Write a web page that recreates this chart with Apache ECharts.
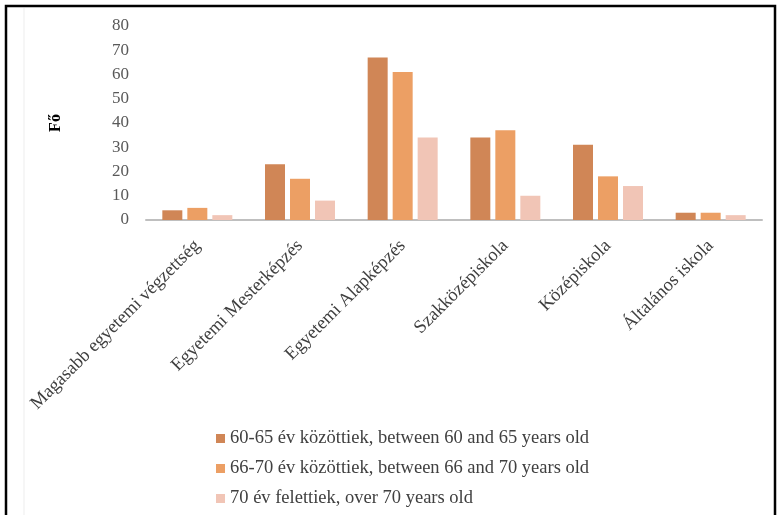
<!DOCTYPE html>
<html><head><meta charset="utf-8">
<script src="https://cdn.jsdelivr.net/npm/echarts@6/dist/echarts.min.js"></script>
<style>html,body{margin:0;padding:0;background:#fff}#c{width:782px;height:515px}</style>
</head><body><div id="c"></div>
<script>
const categories = ['Magasabb egyetemi végzettség','Egyetemi Mesterképzés','Egyetemi Alapképzés','Szakközépiskola','Középiskola','Általános iskola'];
const seriesNames = ['60-65 év közöttiek, between 60 and 65 years old','66-70 év közöttiek, between 66 and 70 years old','70 év felettiek, over 70 years old'];
const s60_65 = [4, 23, 67, 34, 31, 3];
const s66_70 = [5, 17, 61, 37, 18, 3];
const s70plus = [2, 8, 34, 10, 14, 2];
const colors = ['#D08656','#EC9F64','#F1C5B6'];
const font = 'Liberation Serif';
const chart = echarts.init(document.getElementById('c'));
const mk = (name, data, i) => ({
  name, type:'bar', data, barWidth:20, barGap:'25%',
  itemStyle:{color:colors[i]}
});
chart.setOption({
  animation:false,
  textStyle:{fontFamily:font},
  grid:{left:146, right:20, top:26, bottom:295, containLabel:false},
  legend:{
    orient:'vertical', left:211, top:424, itemWidth:9, itemHeight:9, itemGap:11,
    icon:'rect',
    textStyle:{fontFamily:font, fontSize:18.5, color:'#404040'},
    data:seriesNames
  },
  xAxis:{
    type:'category', data:categories,
    axisLine:{lineStyle:{color:'#BFBFBF', width:2}},
    axisTick:{show:false},
    axisLabel:{rotate:45, interval:0, fontFamily:font, fontSize:18.5, color:'#404040', margin:23}
  },
  yAxis:{
    type:'value', min:0, max:80, interval:10,
    name:'Fő', nameLocation:'middle', nameRotate:90, nameGap:82,
    nameTextStyle:{fontFamily:font, fontSize:16, fontWeight:'bold', color:'#000'},
    axisLine:{show:false}, axisTick:{show:false}, splitLine:{show:false},
    axisLabel:{fontFamily:font, fontSize:17, color:'#595959', margin:17}
  },
  graphic:[
    {type:'rect', shape:{x:6, y:6, width:769, height:520}, style:{fill:'none', stroke:'#000', lineWidth:2.5}, silent:true},
    {type:'line', shape:{x1:24, y1:8, x2:24, y2:515}, style:{stroke:'#EDEDED', lineWidth:1}, silent:true}
  ],
  series:[mk(seriesNames[0], s60_65, 0), mk(seriesNames[1], s66_70, 1), mk(seriesNames[2], s70plus, 2)]
});
</script></body></html>
